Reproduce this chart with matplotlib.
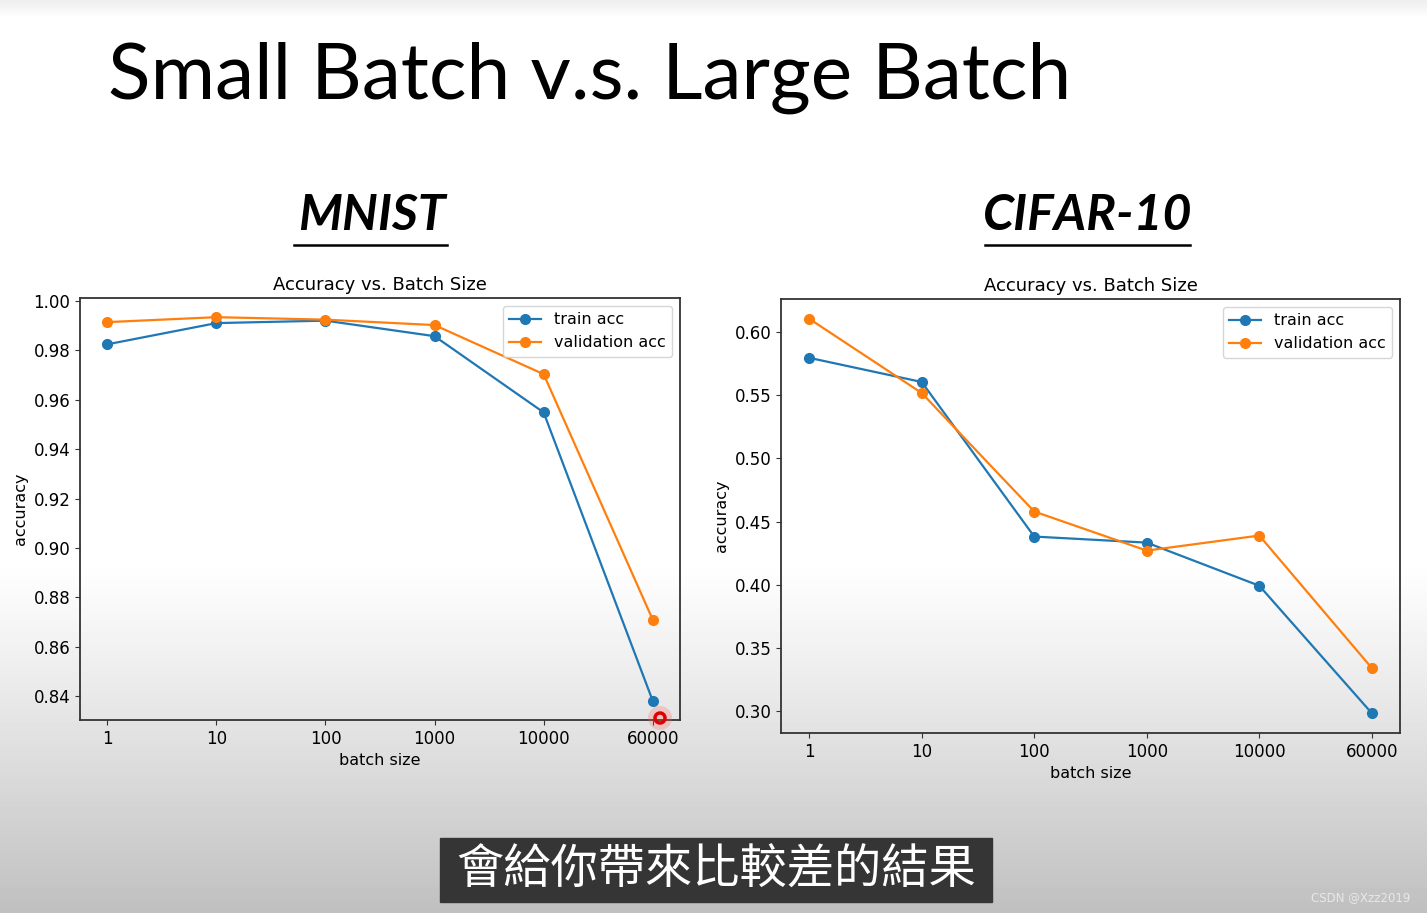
import numpy as np
import matplotlib.pyplot as plt
from matplotlib.lines import Line2D
from matplotlib.patches import Rectangle, Circle

# data
batch_sizes = ['1', '10', '100', '1000', '10000', '60000']
mnist_train = [0.9825, 0.9911, 0.9921, 0.9858, 0.9549, 0.8380]
mnist_val = [0.9915, 0.9935, 0.9925, 0.9903, 0.9704, 0.8709]
cifar_train = [0.5794, 0.5603, 0.4381, 0.4333, 0.3992, 0.2984]
cifar_val = [0.6103, 0.5516, 0.4579, 0.4270, 0.4389, 0.3341]

slide_title = 'Small Batch v.s. Large Batch'
panel_names = ['MNIST', 'CIFAR-10']
subtitle = '會給你帶來比較差的結果'
watermark = 'CSDN @Xzz2019'

W, H = 1427, 913
fig = plt.figure(figsize=(W / 100, H / 100), dpi=100)

# slide background: white, darkening towards the bottom
rows = np.arange(H)
shade = np.ones(H)
shade[rows < 18] = 0.93 + 0.07 * rows[rows < 18] / 18
low = rows > 560
shade[low] = 1.0 - 0.25 * ((rows[low] - 560) / (H - 560)) ** 1.1
bg = fig.add_axes([0, 0, 1, 1], zorder=-10)
bg.imshow(np.tile(shade[:, None], (1, 4)), cmap='gray', vmin=0, vmax=1,
          aspect='auto', extent=[0, W, H, 0])
bg.set_xlim(0, W)
bg.set_ylim(H, 0)
bg.axis('off')

def px_box(x0, y0, x1, y1):
    '''pixel box (top-left origin) -> figure fraction rect'''
    return [x0 / W, 1 - y1 / H, (x1 - x0) / W, (y1 - y0) / H]

def draw_panel(rect, train, val, yticks):
    ax = fig.add_axes(rect)
    ax.patch.set_alpha(0)
    ax.plot(batch_sizes, train, '-o', color='#1f77b4', lw=1.6, ms=7, label='train acc')
    ax.plot(batch_sizes, val, '-o', color='#ff7f0e', lw=1.6, ms=7, label='validation acc')
    ax.set_yticks(yticks)
    ax.set_yticklabels(['%.2f' % t for t in yticks])
    ax.tick_params(labelsize=12, color='#333333')
    for s in ax.spines.values():
        s.set_color('#333333')
        s.set_linewidth(1.3)
    ax.set_title('Accuracy vs. Batch Size', fontsize=13, pad=6)
    ax.set_xlabel('batch size', fontsize=11.5)
    ax.set_ylabel('accuracy', fontsize=11.5)
    ax.legend(loc='upper right', fontsize=11.5, framealpha=0.8)
    return ax

ax1 = draw_panel(px_box(80, 298, 680, 720), mnist_train, mnist_val,
                 [0.84, 0.86, 0.88, 0.90, 0.92, 0.94, 0.96, 0.98, 1.00])
ax2 = draw_panel(px_box(781, 299, 1400, 733), cifar_train, cifar_val,
                 [0.30, 0.35, 0.40, 0.45, 0.50, 0.55, 0.60])

# slide texts
fig.text(108 / W, 1 - 78 / H, slide_title, fontsize=56.5, family='Lato',
         ha='left', va='center', color='black')
for name, cx, x0, x1 in [(panel_names[0], 372, 294, 447), (panel_names[1], 1088, 985, 1190)]:
    fig.text(cx / W, 1 - 216 / H, name, fontsize=36, family='Lato',
             weight='bold', style='italic', ha='center', va='center')
    fig.add_artist(Line2D([x0 / W, x1 / W], [1 - 245 / H, 1 - 245 / H],
                          color='black', lw=1.8))

# caption box
fig.add_artist(Rectangle((440 / W, 1 - 902 / H), 552 / W, 64 / H,
                         transform=fig.transFigure, color='#353535', zorder=5))
fig.text(716 / W, 1 - 871 / H, subtitle, fontsize=34, color='white',
         family=['Noto Sans CJK TC', 'DejaVu Sans'], ha='center', va='center', zorder=6)
fig.text(1410 / W, 1 - 898 / H, watermark, fontsize=8.5, color='#e8e8e8',
         ha='right', va='center')

# cursor highlight
top = fig.add_axes([0, 0, 1, 1], zorder=20)
top.set_xlim(0, W)
top.set_ylim(H, 0)
top.axis('off')
top.add_patch(Circle((660, 718), 12, color='#ff6060', alpha=0.25, lw=0))
top.add_patch(Circle((660, 718), 5, fill=False, edgecolor='#e00000', lw=2.5))

fig.savefig('out.png', dpi=100)
